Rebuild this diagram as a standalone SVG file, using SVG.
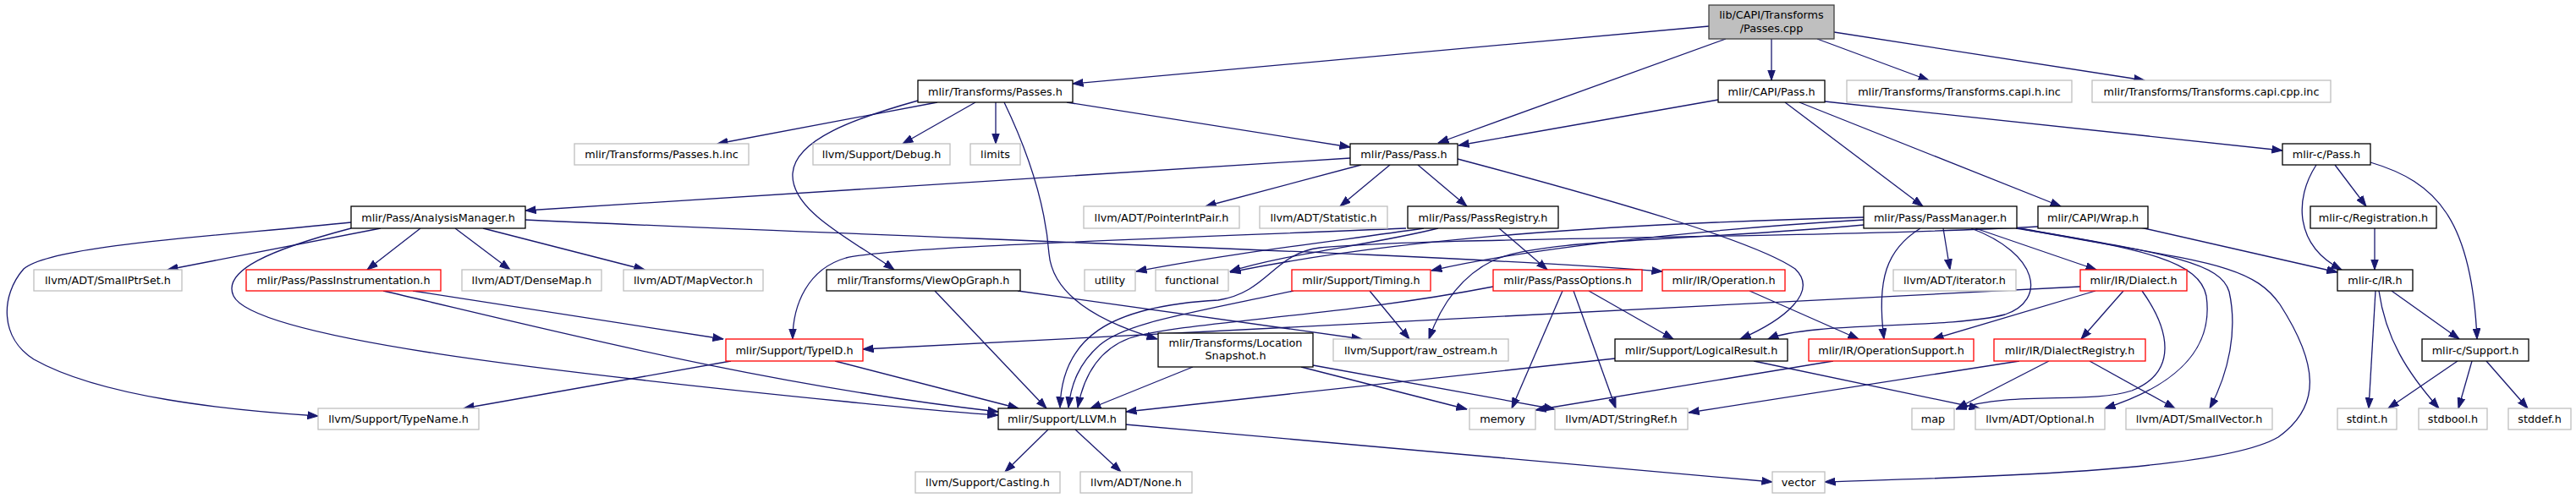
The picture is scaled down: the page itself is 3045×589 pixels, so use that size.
<svg xmlns="http://www.w3.org/2000/svg" width="3045" height="589" viewBox="0 0 3045 589">
<style>
.node rect{fill:#fff;stroke:#000;stroke-width:1.3}
.node.g rect{stroke:#bfbfbf}
.node.r rect{stroke:#ff0000}
.node.root rect{fill:#bfbfbf;stroke:#404040}
.node text{font-family:"DejaVu Sans",sans-serif;font-size:12.8px;text-anchor:middle;fill:#000}
#edges path{fill:none;stroke:#191970;stroke-width:1.3;marker-end:url(#a)}
</style>
<defs>
<marker id="a" markerUnits="userSpaceOnUse" markerWidth="13" markerHeight="10" viewBox="0 0 13 10" refX="12.5" refY="5" orient="auto"><path d="M0,0.6 L12.5,5 L0,9.4 z" fill="#191970" stroke="#191970" stroke-width="1"/></marker>
</defs>
<rect width="3045" height="589" fill="#fff"/>
<g id="edges">
<path d="M2020,31 L1268,99"/>
<path d="M2040,46 L1700,169"/>
<path d="M2094,46 L2094,95"/>
<path d="M2148,46 L2280,95"/>
<path d="M2168,38 L2535,95"/>
<path d="M1108,121 L848,170"/>
<path d="M1153,121 L1067,170"/>
<path d="M1177,121 L1177,170"/>
<path d="M1261,121 L1596,174"/>
<path d="M1085,119 C1010,140 940,165 937,205 C934,250 1010,285 1057,319"/>
<path d="M1187,121 C1225,200 1237,260 1240,300 C1244,345 1290,378 1368,401"/>
<path d="M2031,118 L1724,172"/>
<path d="M2110,121 L2273,244"/>
<path d="M2127,121 L2436,244"/>
<path d="M2157,120 L2698,178"/>
<path d="M1596,187 L621,249"/>
<path d="M1609,195 L1425,244"/>
<path d="M1643,195 L1584,244"/>
<path d="M1676,195 L1734,244"/>
<path d="M1723,188 C1900,235 2075,285 2122,318 C2150,345 2110,378 2057,401"/>
<path d="M450,270 L198,319"/>
<path d="M497,270 L434,319"/>
<path d="M538,270 L603,319"/>
<path d="M571,270 L762,319"/>
<path d="M621,260 C1100,282 1700,300 1965,321"/>
<path d="M415,263 C250,280 60,290 28,318 C0,350 0,400 40,425 C120,470 270,485 376,492"/>
<path d="M415,270 C320,295 262,320 276,350 C300,400 650,440 1000,475 C1070,482 1130,488 1180,491"/>
<path d="M488,344 L855,401"/>
<path d="M453,344 C650,390 900,455 1180,487"/>
<path d="M864,427 L548,483"/>
<path d="M987,427 L1204,483"/>
<path d="M1105,344 L1237,483"/>
<path d="M1203,344 L1610,401"/>
<path d="M1410,434 L1289,483"/>
<path d="M1538,434 L1734,484"/>
<path d="M1552,432 L1838,484"/>
<path d="M1619,344 L1666,401"/>
<path d="M1529,344 C1400,372 1330,382 1300,408 C1275,430 1266,455 1263,482"/>
<path d="M1765,339 C1580,375 1400,380 1335,400 C1295,415 1280,450 1274,482"/>
<path d="M2409,268 C2150,282 1700,280 1560,293 C1505,300 1500,345 1440,355 C1310,362 1255,400 1253,482"/>
<path d="M1683,270 C1580,285 1450,300 1343,321"/>
<path d="M1700,270 C1620,290 1520,300 1454,321"/>
<path d="M2203,257 C1900,265 1650,282 1454,322"/>
<path d="M2203,260 C2000,272 1800,295 1692,320"/>
<path d="M2203,266 C2000,285 1820,282 1765,308 C1720,330 1700,370 1689,401"/>
<path d="M1772,270 L1829,319"/>
<path d="M1662,270 C1300,285 1050,293 1000,305 C955,318 937,360 937,401"/>
<path d="M1847,344 L1787,483"/>
<path d="M1860,344 L1910,483"/>
<path d="M1878,344 L1978,401"/>
<path d="M2068,344 L2197,401"/>
<path d="M1909,424 L1331,487"/>
<path d="M2073,427 L2340,483"/>
<path d="M2167,427 L1815,485"/>
<path d="M2387,427 L1996,488"/>
<path d="M2422,427 L2313,483"/>
<path d="M2470,427 L2571,483"/>
<path d="M2459,339 L1020,413"/>
<path d="M2477,344 L2285,401"/>
<path d="M2510,344 L2460,401"/>
<path d="M2532,344 C2565,390 2575,440 2520,462 C2470,478 2380,462 2312,484"/>
<path d="M2270,270 C2230,295 2218,330 2227,401"/>
<path d="M2297,270 L2305,319"/>
<path d="M2330,270 C2410,300 2420,355 2370,372 C2300,390 2140,380 2090,401"/>
<path d="M2335,270 L2478,319"/>
<path d="M2383,270 C2540,295 2600,310 2608,350 C2618,420 2560,460 2488,483"/>
<path d="M2388,270 C2560,300 2625,310 2635,345 C2645,390 2635,440 2612,483"/>
<path d="M2392,271 C2600,310 2660,310 2695,360 C2740,430 2745,480 2693,517 C2620,560 2300,565 2157,570"/>
<path d="M2530,269 L2763,322"/>
<path d="M2738,195 C2712,235 2712,290 2768,319"/>
<path d="M2760,195 L2797,244"/>
<path d="M2802,192 C2880,215 2922,260 2928,401"/>
<path d="M2807,270 L2807,319"/>
<path d="M2827,344 L2907,401"/>
<path d="M2808,344 L2800,483"/>
<path d="M2812,344 C2820,400 2845,440 2883,483"/>
<path d="M2905,427 L2823,483"/>
<path d="M2922,427 L2906,483"/>
<path d="M2939,427 L2988,483"/>
<path d="M1239,508 L1188,558"/>
<path d="M1271,508 L1325,558"/>
<path d="M1330,502 L2095,570"/>
</g>
<g id="n0" class="node root"><rect x="2020" y="6" width="148" height="40"/><text x="2094" y="21.5">lib/CAPI/Transforms</text><text x="2094" y="37.5">/Passes.cpp</text></g>
<g id="n1" class="node"><rect x="1085" y="95" width="183" height="26"/><text x="1176.5" y="112.5">mlir/Transforms/Passes.h</text></g>
<g id="n2" class="node"><rect x="2031" y="95" width="126" height="26"/><text x="2094" y="112.5">mlir/CAPI/Pass.h</text></g>
<g id="n3" class="node g"><rect x="2183" y="95" width="266" height="26"/><text x="2316" y="112.5">mlir/Transforms/Transforms.capi.h.inc</text></g>
<g id="n4" class="node g"><rect x="2473" y="95" width="282" height="26"/><text x="2614" y="112.5">mlir/Transforms/Transforms.capi.cpp.inc</text></g>
<g id="n5" class="node g"><rect x="679" y="170" width="206" height="25"/><text x="782" y="187">mlir/Transforms/Passes.h.inc</text></g>
<g id="n6" class="node g"><rect x="961" y="170" width="162" height="25"/><text x="1042" y="187">llvm/Support/Debug.h</text></g>
<g id="n7" class="node g"><rect x="1147" y="170" width="59" height="25"/><text x="1176.5" y="187">limits</text></g>
<g id="n8" class="node"><rect x="1596" y="170" width="127" height="25"/><text x="1659.5" y="187">mlir/Pass/Pass.h</text></g>
<g id="n9" class="node"><rect x="2698" y="170" width="104" height="25"/><text x="2750" y="187">mlir-c/Pass.h</text></g>
<g id="n10" class="node"><rect x="415" y="244" width="206" height="26"/><text x="518" y="261.5">mlir/Pass/AnalysisManager.h</text></g>
<g id="n11" class="node g"><rect x="1281" y="244" width="184" height="26"/><text x="1373" y="261.5">llvm/ADT/PointerIntPair.h</text></g>
<g id="n12" class="node g"><rect x="1489" y="244" width="151" height="26"/><text x="1564.5" y="261.5">llvm/ADT/Statistic.h</text></g>
<g id="n13" class="node"><rect x="1664" y="244" width="178" height="26"/><text x="1753" y="261.5">mlir/Pass/PassRegistry.h</text></g>
<g id="n14" class="node"><rect x="2203" y="244" width="181" height="26"/><text x="2293.5" y="261.5">mlir/Pass/PassManager.h</text></g>
<g id="n15" class="node"><rect x="2409" y="244" width="130" height="26"/><text x="2474" y="261.5">mlir/CAPI/Wrap.h</text></g>
<g id="n16" class="node"><rect x="2731" y="244" width="149" height="26"/><text x="2805.5" y="261.5">mlir-c/Registration.h</text></g>
<g id="n17" class="node g"><rect x="40" y="319" width="175" height="25"/><text x="127.5" y="336">llvm/ADT/SmallPtrSet.h</text></g>
<g id="n18" class="node r"><rect x="291" y="319" width="230" height="25"/><text x="406" y="336">mlir/Pass/PassInstrumentation.h</text></g>
<g id="n19" class="node g"><rect x="546" y="319" width="165" height="25"/><text x="628.5" y="336">llvm/ADT/DenseMap.h</text></g>
<g id="n20" class="node g"><rect x="737" y="319" width="165" height="25"/><text x="819.5" y="336">llvm/ADT/MapVector.h</text></g>
<g id="n21" class="node"><rect x="977" y="319" width="229" height="25"/><text x="1091.5" y="336">mlir/Transforms/ViewOpGraph.h</text></g>
<g id="n22" class="node g"><rect x="1282" y="319" width="60" height="25"/><text x="1312" y="336">utility</text></g>
<g id="n23" class="node g"><rect x="1366" y="319" width="86" height="25"/><text x="1409" y="336">functional</text></g>
<g id="n24" class="node r"><rect x="1527" y="319" width="164" height="25"/><text x="1609" y="336">mlir/Support/Timing.h</text></g>
<g id="n25" class="node r"><rect x="1765" y="319" width="176" height="25"/><text x="1853" y="336">mlir/Pass/PassOptions.h</text></g>
<g id="n26" class="node r"><rect x="1965" y="319" width="145" height="25"/><text x="2037.5" y="336">mlir/IR/Operation.h</text></g>
<g id="n27" class="node g"><rect x="2238" y="319" width="145" height="25"/><text x="2310.5" y="336">llvm/ADT/iterator.h</text></g>
<g id="n28" class="node r"><rect x="2459" y="319" width="126" height="25"/><text x="2522" y="336">mlir/IR/Dialect.h</text></g>
<g id="n29" class="node"><rect x="2763" y="319" width="89" height="25"/><text x="2807.5" y="336">mlir-c/IR.h</text></g>
<g id="n30" class="node r"><rect x="858" y="401" width="162" height="26"/><text x="939" y="418.5">mlir/Support/TypeID.h</text></g>
<g id="n31" class="node"><rect x="1369" y="394" width="183" height="40"/><text x="1460.5" y="410">mlir/Transforms/Location</text><text x="1460.5" y="425">Snapshot.h</text></g>
<g id="n32" class="node g"><rect x="1576" y="401" width="207" height="26"/><text x="1679.5" y="418.5">llvm/Support/raw_ostream.h</text></g>
<g id="n33" class="node"><rect x="1909" y="401" width="204" height="26"/><text x="2011" y="418.5">mlir/Support/LogicalResult.h</text></g>
<g id="n34" class="node r"><rect x="2138" y="401" width="195" height="26"/><text x="2235.5" y="418.5">mlir/IR/OperationSupport.h</text></g>
<g id="n35" class="node r"><rect x="2357" y="401" width="179" height="26"/><text x="2446.5" y="418.5">mlir/IR/DialectRegistry.h</text></g>
<g id="n36" class="node"><rect x="2863" y="401" width="126" height="26"/><text x="2926" y="418.5">mlir-c/Support.h</text></g>
<g id="n37" class="node g"><rect x="376" y="483" width="190" height="25"/><text x="471" y="500">llvm/Support/TypeName.h</text></g>
<g id="n38" class="node"><rect x="1180" y="483" width="151" height="25"/><text x="1255.5" y="500">mlir/Support/LLVM.h</text></g>
<g id="n39" class="node g"><rect x="1737" y="483" width="78" height="25"/><text x="1776" y="500">memory</text></g>
<g id="n40" class="node g"><rect x="1838" y="483" width="157" height="25"/><text x="1916.5" y="500">llvm/ADT/StringRef.h</text></g>
<g id="n41" class="node g"><rect x="2260" y="483" width="50" height="25"/><text x="2285" y="500">map</text></g>
<g id="n42" class="node g"><rect x="2335" y="483" width="153" height="25"/><text x="2411.5" y="500">llvm/ADT/Optional.h</text></g>
<g id="n43" class="node g"><rect x="2513" y="483" width="173" height="25"/><text x="2599.5" y="500">llvm/ADT/SmallVector.h</text></g>
<g id="n44" class="node g"><rect x="2763" y="483" width="70" height="25"/><text x="2798" y="500">stdint.h</text></g>
<g id="n45" class="node g"><rect x="2859" y="483" width="81" height="25"/><text x="2899.5" y="500">stdbool.h</text></g>
<g id="n46" class="node g"><rect x="2965" y="483" width="74" height="25"/><text x="3002" y="500">stddef.h</text></g>
<g id="n47" class="node g"><rect x="1082" y="558" width="171" height="25"/><text x="1167.5" y="575">llvm/Support/Casting.h</text></g>
<g id="n48" class="node g"><rect x="1277" y="558" width="132" height="25"/><text x="1343" y="575">llvm/ADT/None.h</text></g>
<g id="n49" class="node g"><rect x="2095" y="558" width="62" height="25"/><text x="2126" y="575">vector</text></g>
</svg>
